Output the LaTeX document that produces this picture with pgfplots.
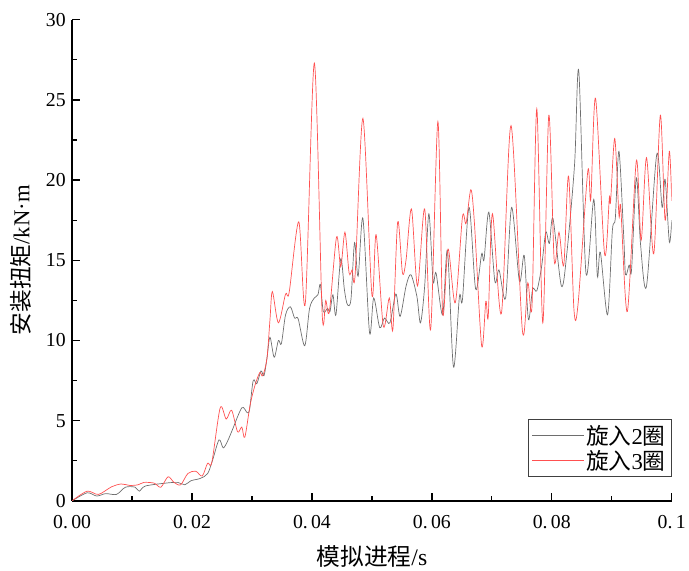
\documentclass[border=0pt]{standalone}
\usepackage{pgfplots}
\pgfplotsset{compat=1.18}
\usepackage{fontspec}
\setmainfont{Liberation Serif}
\newfontfamily\cjk{Noto Sans CJK SC}

\definecolor{grayline}{RGB}{110,110,110}
\definecolor{redline}{RGB}{255,80,80}

\begin{document}
\begin{tikzpicture}
\begin{axis}[
    width=607pt, height=487pt,
    scale only axis,
    xmin=0, xmax=0.1, ymin=0, ymax=30,
    axis lines=left,
    axis line style={-, line width=1.5pt},
    xtick={0,0.02,0.04,0.06,0.08,0.1},
    xticklabels={0.\,00,0.\,02,0.\,04,0.\,06,0.\,08,0.\,1},
    scaled x ticks=false,
    ytick={0,5,10,15,20,25,30},
    minor x tick num=1,
    minor y tick num=1,
    tick align=inside,
    major tick length=8pt,
    minor tick length=5pt,
    tick style={line width=1.3pt, black},
    /pgf/number format/assume math mode=true,
    tick label style={font=\fontsize{20}{24}\selectfont},
    xticklabel style={yshift=-11pt},
    yticklabel style={xshift=-3pt},
    xlabel={{\cjk 模拟进程}/s},
    ylabel={{\cjk 安装扭矩}/kN·m},
    xlabel style={font=\fontsize{24}{28}\selectfont, yshift=-10pt},
    ylabel style={font=\fontsize{23}{28}\selectfont, yshift=8pt},
    legend style={at={(1,0.05)}, anchor=south east, draw=black!75,
      font=\fontsize{23}{27}\selectfont, inner sep=4pt, row sep=0pt},
    legend cell align=left,
    legend image code/.code={\draw[#1, line width=0.8pt] (0pt,0pt) -- (52pt,0pt);},
]
\addplot[grayline, line width=0.7pt, smooth, tension=0.5] coordinates {
(0,0) (0.0025,0.5) (0.0041,0.3) (0.0056,0.45) (0.0074,0.4) (0.0089,0.85)
(0.0105,0.85) (0.0112,0.6) (0.0122,0.92) (0.0155,1.1) (0.0176,1.15) (0.0188,1.0)
(0.0198,1.25) (0.0214,1.4) (0.0226,1.7) (0.0234,2.5) (0.0245,3.8) (0.0252,3.3)
(0.0259,3.7) (0.0267,4.4) (0.0283,5.8) (0.0292,5.5) (0.0296,5.7) (0.0302,7.5)
(0.0308,7.3) (0.0315,8.1) (0.0320,7.8) (0.0325,8.9) (0.0330,10.2) (0.0337,8.95)
(0.0344,10.0) (0.0349,9.8) (0.0356,11.6) (0.0364,12.1) (0.0371,11.4) (0.0377,11.35)
(0.0388,9.67) (0.0396,12.0) (0.0404,12.65) (0.0410,12.85) (0.0414,13.5) (0.0419,11.8)
(0.0426,12.0) (0.0430,11.8) (0.0435,12.85) (0.0440,11.6) (0.0448,15.1) (0.0454,13.2)
(0.0459,12.25) (0.0465,12.55) (0.0471,16.1) (0.0477,14.0) (0.0485,17.6) (0.0496,10.5)
(0.0503,12.65) (0.0513,10.8) (0.0521,11.4) (0.0530,11.1) (0.0540,12.9) (0.0547,11.5)
(0.0557,13.4) (0.0565,14.1) (0.0575,12.75) (0.0581,11.1) (0.0588,13.4) (0.0595,17.9)
(0.0602,13.7) (0.0607,14.2) (0.0618,11.6) (0.0626,15.6) (0.0636,8.35) (0.0646,12.75)
(0.0651,12.55) (0.0662,18.3) (0.0673,13.2) (0.0683,15.4) (0.0687,15.05) (0.0695,18.0)
(0.0705,13.7) (0.0712,14.4) (0.0723,12.65) (0.0733,18.3) (0.0746,13.7) (0.0754,15.3)
(0.0761,11.3) (0.0768,13.2) (0.0775,13.1) (0.0783,14.6) (0.0790,16.75) (0.0796,16.05)
(0.0802,17.6) (0.0816,13.4) (0.0825,15.4) (0.0838,21.0) (0.0845,26.8) (0.0857,14.2)
(0.0870,18.8) (0.0876,14.0) (0.0881,15.5) (0.0893,11.6) (0.0901,16.85) (0.0906,17.65)
(0.0912,21.8) (0.0920,16.45) (0.0923,14.1) (0.0929,14.7) (0.0933,14.4) (0.0941,20.15)
(0.0948,16.0) (0.0958,13.4) (0.0975,21.6) (0.0984,18.3) (0.0989,20.05) (0.0996,16.15)
(0.1,17.5)
};
\addlegendentry{{\cjk 旋入}2{\cjk 圈}}
\addplot[redline, line width=0.7pt, smooth, tension=0.5] coordinates {
(0,0) (0.0025,0.6) (0.0044,0.4) (0.0066,0.88) (0.0082,1.05) (0.0096,0.96)
(0.0110,1.0) (0.0120,1.15) (0.0137,1.1) (0.0148,0.85) (0.0160,1.5) (0.0170,1.15)
(0.0181,1.0) (0.0193,1.7) (0.0206,1.85) (0.0217,1.55) (0.0226,2.35) (0.0233,2.4)
(0.0247,5.8) (0.0257,5.1) (0.0266,5.65) (0.0276,4.3) (0.0283,4.6) (0.0288,3.96)
(0.0297,6.0) (0.0305,7.2) (0.0313,8.0) (0.0318,7.8) (0.0325,8.9) (0.0330,11.3)
(0.0334,13.05) (0.0344,11.1) (0.0356,12.9) (0.0362,13.0) (0.0378,17.4) (0.0389,12.35)
(0.0404,27.3) (0.0417,11.7) (0.0423,12.5) (0.0429,11.8) (0.0441,16.45) (0.0448,14.6)
(0.0455,16.75) (0.0462,14.2) (0.0467,14.4) (0.0472,14.1) (0.0485,23.85) (0.0500,12.85)
(0.0507,16.6) (0.0519,10.9) (0.0529,12.65) (0.0535,10.7) (0.0543,17.4) (0.0551,14.2)
(0.0557,15.05) (0.0566,18.2) (0.0576,13.4) (0.0588,18.2) (0.0598,10.7) (0.0610,23.65)
(0.0618,11.7) (0.0627,15.7) (0.0639,12.35) (0.0651,17.7) (0.0657,17.3) (0.0665,19.4)
(0.0671,17.3) (0.0683,9.67) (0.0690,12.45) (0.0694,11.5) (0.0701,17.9) (0.0716,11.7)
(0.0732,23.4) (0.0751,10.6) (0.0760,13.6) (0.0767,12.15) (0.0775,24.45) (0.0785,11.1)
(0.0795,24.05) (0.0804,15.0) (0.0812,16.75) (0.0820,14.7) (0.0828,20.25) (0.0837,11.9)
(0.0844,12.35) (0.0860,20.55) (0.0865,18.8) (0.0873,25.1) (0.0888,15.4) (0.0896,18.9)
(0.0898,18.65) (0.0905,22.6) (0.0912,17.8) (0.0915,18.3) (0.0926,11.8) (0.0941,21.2)
(0.0949,16.25) (0.0958,21.4) (0.0970,15.4) (0.0981,24.05) (0.0989,17.5) (0.0996,21.8)
(0.1,18.7)
};
\addlegendentry{{\cjk 旋入}3{\cjk 圈}}
\end{axis}
% blank margins as in the reference
\path (current axis.north west) ++(-73pt,20pt);
\path (current axis.south east) ++(9pt,-66pt);
\end{tikzpicture}
\end{document}
